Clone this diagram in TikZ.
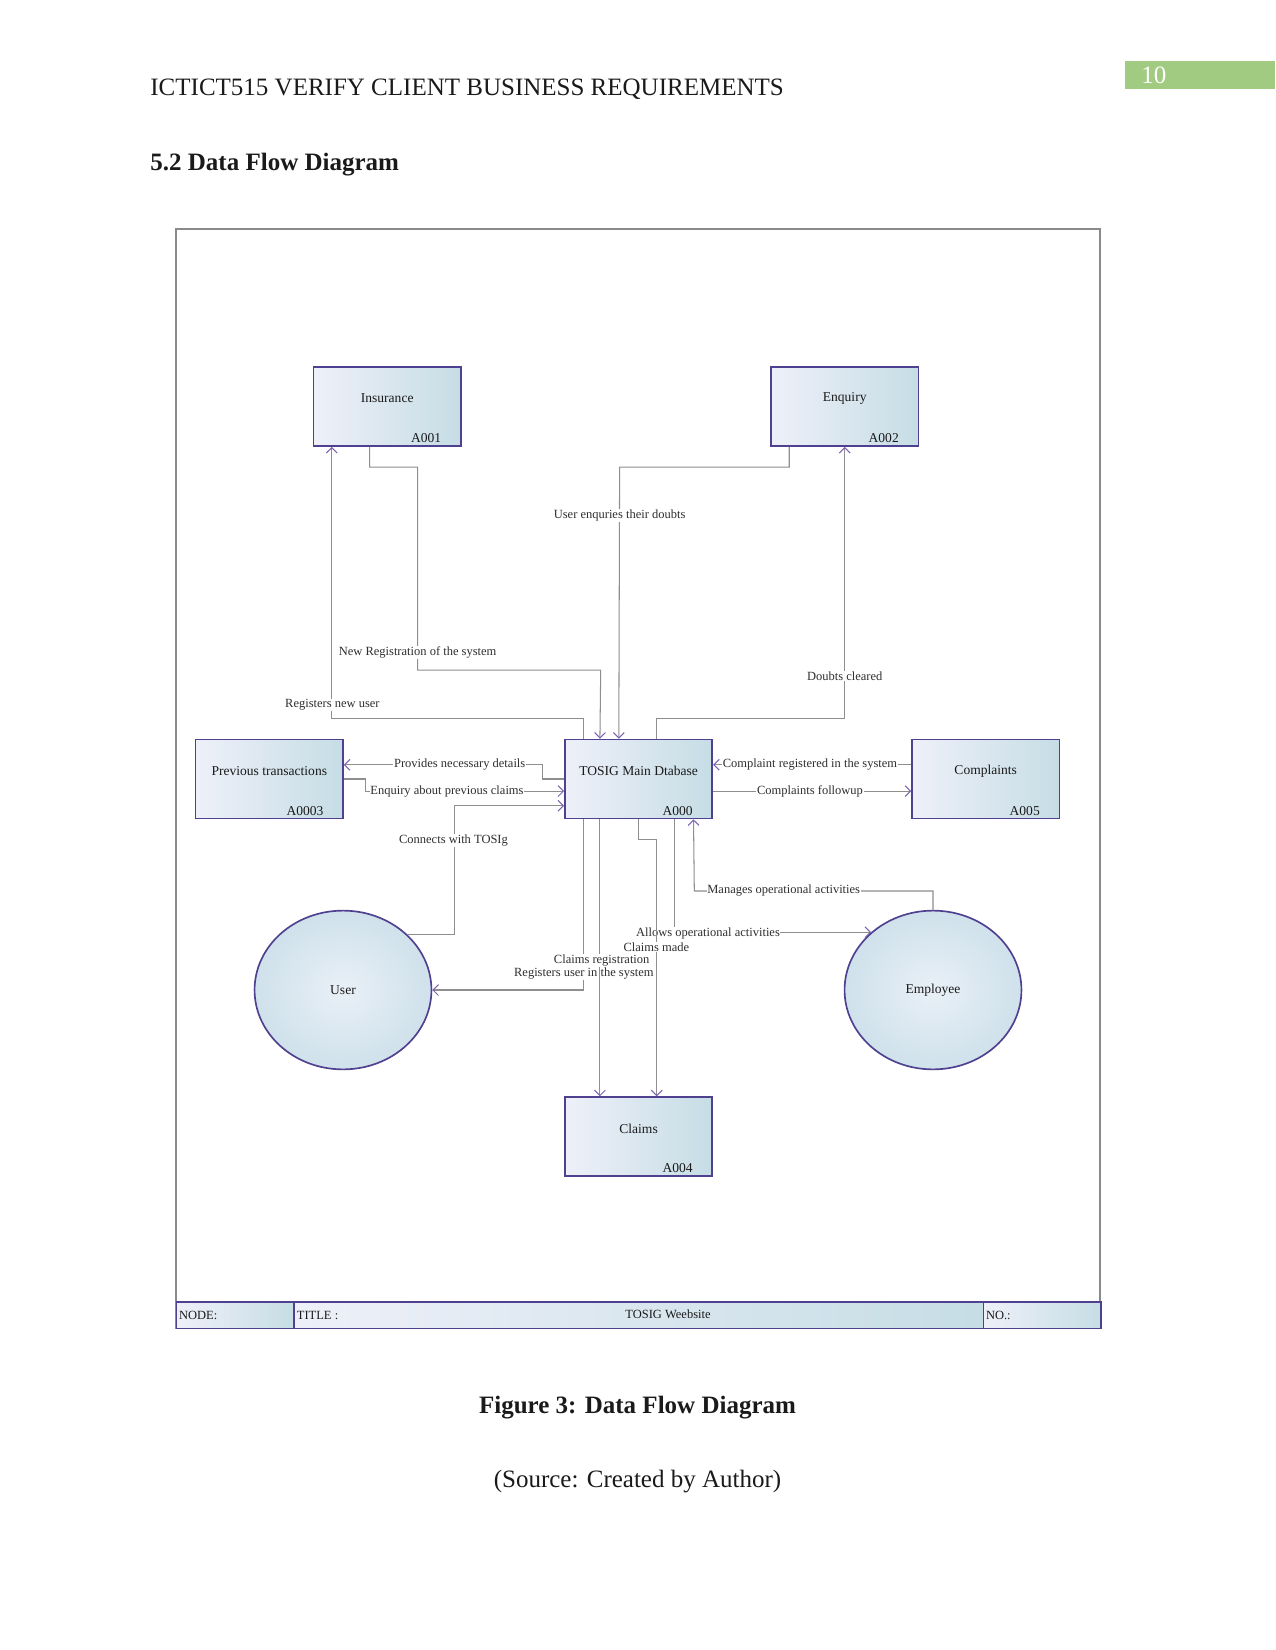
\documentclass[tikz,border=0pt]{standalone}
\usepackage{fontspec}
\setmainfont{Liberation Serif}
\usetikzlibrary{arrows.meta,positioning,calc,shapes.geometric}
\definecolor{ink}{HTML}{1A1A1A}
\definecolor{wire}{HTML}{8E8E8E}
\definecolor{tipline}{HTML}{7A62B0}
\definecolor{boxline}{HTML}{4F418F}
\definecolor{boxlight}{HTML}{EEF0F9}
\definecolor{boxblue}{HTML}{C6DDE5}
\definecolor{ringin}{HTML}{E9F0F7}
\definecolor{ringout}{HTML}{CFE1EB}
\definecolor{frameline}{HTML}{8A8A8A}
\definecolor{pagegreen}{HTML}{A0CB80}
\definecolor{labeltext}{HTML}{2E2E2E}

\begin{document}
\begin{tikzpicture}[
  x=0.48pt, y=-0.48pt,
  >=Latex,
  dfdbox/.style={
    draw=boxline,
    line width=0.8pt,
    left color=boxlight,
    right color=boxblue,
    minimum width=70.7pt,
    minimum height=37.9pt,
    inner sep=0pt
  },
  entity/.style={
    ellipse,
    draw=boxline,
    line width=0.8pt,
    inner color=ringin,
    outer color=ringout,
    minimum width=84.9pt,
    minimum height=76.2pt,
    inner sep=0pt
  },
  barcell/.style={
    draw=boxline,
    line width=0.8pt,
    left color=boxlight,
    right color=boxblue,
    minimum height=12.6pt,
    inner sep=0pt,
    anchor=north west
  },
  flow/.style={draw=wire, line width=0.5pt, -{Straight Barb[length=2.6pt,width=5.2pt,color=tipline]}},
  boxname/.style={font=\fontsize{6.5}{8}\selectfont, text=ink, inner sep=0pt},
  boxid/.style={font=\fontsize{6.5}{8}\selectfont, text=ink, inner sep=0pt},
  lab/.style={font=\fontsize{6}{7}\selectfont, text=labeltext, fill=white, inner sep=0.3pt},
  celltext/.style={font=\fontsize{6}{7}\selectfont, text=ink, inner sep=0pt},
  pagehead/.style={font=\fontsize{12}{14}\selectfont, text=ink, inner sep=0pt}
]

% page size
\useasboundingbox (0,0) rectangle (1275,1650);

% Page header
\node[fill=pagegreen, minimum width=72.2pt, minimum height=13.2pt, inner sep=0pt, anchor=north west] (pagebox) at (1124.6,61) {};
\node[pagehead, text=white, anchor=west] (pageno) at (1141,75) {10};
\node[pagehead, anchor=west] (header) at (150,89) {ICTICT515 VERIFY CLIENT BUSINESS REQUIREMENTS};
\node[pagehead, font=\fontsize{12}{14}\selectfont\bfseries, anchor=west] (section) at (150,165) {5.2 Data Flow Diagram};

% Drawing frame
\draw[draw=frameline, line width=1pt] (175.7,229.3) rectangle (1100.4,1327.6);

% Title bar
\node[barcell, minimum width=56.5pt] (nodecell) at (175.7,1301.3) {};
\node[barcell, minimum width=330.8pt] (titlecell) at (293.5,1301.3) {};
\node[barcell, minimum width=56.5pt] (nocell) at (982.6,1301.3) {};
\node[celltext, anchor=west] (nodetext) at ($(nodecell.west)+(3,0)$) {NODE:};
\node[celltext, anchor=west] (titletext) at ($(titlecell.west)+(3,0)$) {TITLE :};
\node[celltext] (sitetext) at (668,1314.4) {TOSIG Weebsite};
\node[celltext, anchor=west] (notext) at ($(nocell.west)+(3,0)$) {NO.:};

% Stores
\node[dfdbox] (insurance) at (387.2,406.6) {};
\node[boxname] (insurancename) at ($(insurance.center)+(0,-8)$) {Insurance};
\node[boxid, anchor=east] (insuranceid) at ($(insurance.south east)+(-20,-8.5)$) {A001};

\node[dfdbox] (enquiry) at (844.7,406.6) {};
\node[boxname] (enquiryname) at ($(enquiry.center)+(0,-8)$) {Enquiry};
\node[boxid, anchor=east] (enquiryid) at ($(enquiry.south east)+(-20,-8.5)$) {A002};

\node[dfdbox] (prev) at (269.3,779) {};
\node[boxname] (prevname) at ($(prev.center)+(0,-8)$) {Previous transactions};
\node[boxid, anchor=east] (previd) at ($(prev.south east)+(-20,-8.5)$) {A0003};

\node[dfdbox] (tosig) at (638.6,779) {};
\node[boxname] (tosigname) at ($(tosig.center)+(0,-8)$) {TOSIG Main Dtabase};
\node[boxid, anchor=east] (tosigid) at ($(tosig.south east)+(-20,-8.5)$) {A000};

\node[dfdbox] (complaints) at (985.7,779) {};
\node[boxname] (complaintsname) at ($(complaints.center)+(0,-8)$) {Complaints};
\node[boxid, anchor=east] (complaintsid) at ($(complaints.south east)+(-20,-8.5)$) {A005};

\node[dfdbox] (claims) at (638.6,1136.6) {};
\node[boxname] (claimsname) at ($(claims.center)+(0,-8)$) {Claims};
\node[boxid, anchor=east] (claimsid) at ($(claims.south east)+(-20,-8.5)$) {A004};

% External entities
\node[entity] (user) at (343,990) {};
\node[boxname] (username) at (user.center) {User};
\node[entity] (employee) at (933,990) {};
\node[boxname] (employeename) at (employee.center) {Employee};

% Insurance flows
\draw[flow] ($(tosig.north west)+(19,0)$) -- ++(0,-20) -| ($(insurance.south west)+(19,0)$);
\node[lab] (regnewlab) at (332.4,704.8) {Registers new user};
\draw[flow] ($(insurance.south west)+(57,0)$) |- (417.6,467.1) |- (600.7,670.1) -- ($(tosig.north west)+(35.8,0)$);
\node[lab] (newreglab) at (417.6,652.2) {New Registration of the system};

% Enquiry flows
\draw[flow] ($(enquiry.south west)+(19,0)$) |- (619.6,467.1) -- ($(tosig.north west)+(54.7,0)$);
\node[lab] (doubtslab) at (619.6,515.5) {User enquries their doubts};
\draw[flow] ($(tosig.north west)+(92.6,0)$) -- ++(0,-20) -| (enquiry.south);
\node[lab] (clearedlab) at (844.7,676.4) {Doubts cleared};

% Previous transactions
\draw[flow] (tosig.west) -- ++(-22,0) |- ($(prev.east)+(0,-14.2)$);
\node[lab] (detailslab) at (459.7,764.8) {Provides necessary details};
\draw[flow] (prev.east) -- ++(22,0) |- ($(tosig.west)+(0,12.1)$);
\node[lab] (pastlab) at (447,791.1) {Enquiry about previous claims};

% User
\draw[flow] (user.41) -| (454.5,805.8) -- ($(tosig.west)+(0,26.8)$);
\node[lab] (connectlab) at (453.5,840.5) {Connects with TOSIg};
\draw[flow] ($(tosig.south west)+(19,0)$) |- (user.east);
\node[lab] (reguserlab) at (583.9,973.5) {Registers user in the system};

% Employee
\draw[flow] ($(tosig.south west)+(110.5,0)$) |- (employee.137);
\node[lab] (allowlab) at (708,933.5) {Allows operational activities};
\draw[flow] (employee.north) |- (694.3,891) -- ($(tosig.south west)+(129.4,0)$);
\node[lab] (managelab) at (783.7,891) {Manages operational activities};

% Claims
\draw[flow] (tosig.south) -- ++(0,20) -| ($(claims.north west)+(92.6,0)$);
\node[lab] (madelab) at (656.4,947) {Claims made};
\draw[flow] ($(tosig.south west)+(35.8,0)$) -- ($(claims.north west)+(35.8,0)$);
\node[lab] (claimreglab) at (601.7,960.3) {Claims registration};

% Complaints
\draw[flow] ($(complaints.west)+(0,-14.2)$) -- ($(tosig.east)+(0,-14.2)$);
\node[lab] (complab) at (810,764.8) {Complaint registered in the system};
\draw[flow] ($(tosig.east)+(0,12.1)$) -- ($(complaints.west)+(0,12.1)$);
\node[lab] (followlab) at (810,791.1) {Complaints followup};

% Caption
\node[pagehead, font=\fontsize{12}{14}\selectfont\bfseries] (figcap) at (637.5,1407.6) {Figure 3: Data Flow Diagram};
\node[pagehead] (srccap) at (637.5,1481.2) {(Source: Created by Author)};

\end{tikzpicture}
\end{document}
